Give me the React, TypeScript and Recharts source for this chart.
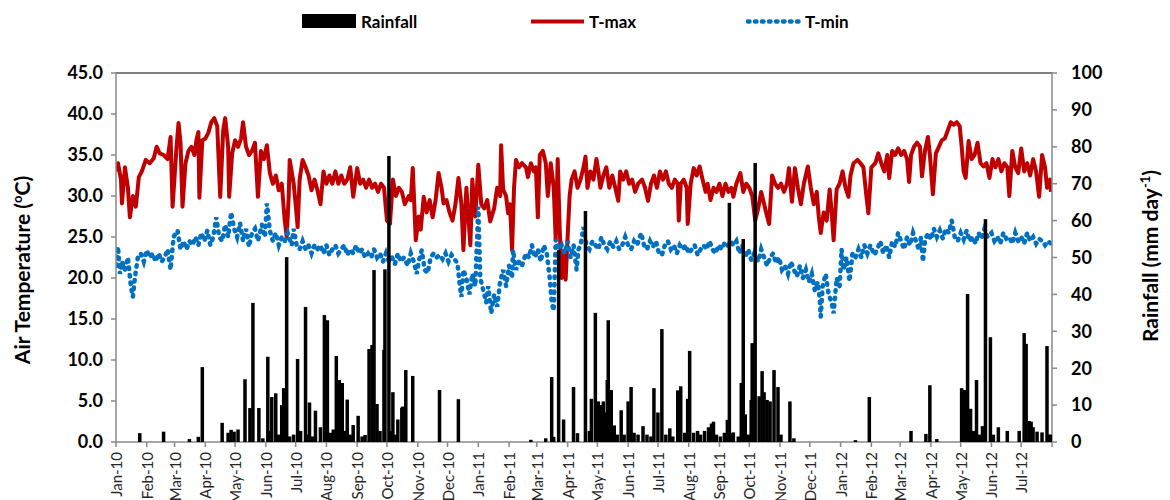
import React from 'react';
import { ComposedChart, Line, Bar, XAxis, YAxis, ReferenceLine } from 'recharts';

// Day index 0 = 1 Jan 2010; month starts used as x-axis ticks
const monthStarts = [0, 31, 59, 90, 120, 151, 181, 212, 243, 273, 304, 334, 365, 396, 424, 455, 485, 516, 546, 577, 608, 638, 669, 699, 730, 761, 790, 821, 851, 882, 912, 943];
const monthLabels = ['Jan-10', 'Feb-10', 'Mar-10', 'Apr-10', 'May-10', 'Jun-10', 'Jul-10', 'Aug-10', 'Sep-10', 'Oct-10', 'Nov-10', 'Dec-10', 'Jan-11', 'Feb-11', 'Mar-11', 'Apr-11', 'May-11', 'Jun-11', 'Jul-11', 'Aug-11', 'Sep-11', 'Oct-11', 'Nov-11', 'Dec-11', 'Jan-12', 'Feb-12', 'Mar-12', 'Apr-12', 'May-12', 'Jun-12', 'Jul-12', ''];
const tempTicks = [0, 5, 10, 15, 20, 25, 30, 35, 40, 45];
const rainTicks = [0, 10, 20, 30, 40, 50, 60, 70, 80, 90, 100];

// [day, °C]
const tmaxReadings: [number, number][] = [[0,33.0],[2,34.0],[5,32.0],[6,29.1],[9,33.5],[12,31.0],[14,27.4],[17,30.0],[20,28.7],[23,32.3],[26,33.0],[30,34.4],[34,34.0],[38,34.6],[41,36.0],[44,35.2],[48,35.0],[52,34.5],[55,37.2],[57,28.7],[61,36.0],[63,38.9],[65,36.5],[67,28.7],[70,34.0],[73,35.5],[76,36.0],[79,35.0],[81,36.8],[83,37.8],[84,29.8],[87,36.8],[90,37.0],[93,37.7],[96,39.0],[99,39.5],[102,38.5],[105,29.9],[108,38.0],[110,39.5],[113,36.0],[114,29.9],[117,35.2],[120,36.8],[123,36.0],[126,37.0],[128,39.0],[131,36.0],[134,35.0],[137,35.5],[140,36.5],[143,29.9],[146,35.5],[149,34.5],[152,36.2],[155,32.8],[158,31.5],[161,32.5],[164,30.7],[167,31.5],[170,27.0],[172,25.0],[174,30.0],[175,34.4],[179,31.5],[181,29.0],[183,26.2],[185,32.0],[188,34.4],[191,33.5],[194,32.5],[197,30.7],[200,32.0],[203,30.7],[206,29.0],[209,33.0],[212,31.5],[215,32.5],[218,31.5],[221,33.0],[224,31.5],[227,32.5],[230,31.5],[233,32.0],[236,33.5],[239,29.9],[243,33.4],[246,31.5],[249,32.0],[252,31.0],[255,32.0],[258,31.0],[261,31.5],[264,30.5],[267,31.5],[270,31.0],[273,27.0],[276,26.6],[279,32.0],[282,30.0],[285,31.0],[288,30.5],[291,29.0],[295,30.0],[297,29.5],[299,33.4],[302,24.6],[305,27.5],[307,25.9],[310,29.9],[313,28.0],[316,29.5],[319,27.4],[322,29.5],[325,32.8],[328,31.0],[330,29.1],[333,29.5],[336,28.0],[339,27.0],[342,29.0],[345,32.2],[348,29.0],[350,23.4],[353,31.0],[357,24.0],[359,32.0],[362,27.5],[365,33.8],[368,29.0],[371,28.5],[374,29.5],[377,26.9],[381,28.5],[384,31.0],[387,30.0],[388,36.2],[390,30.8],[393,30.0],[395,27.9],[397,29.0],[399,23.4],[401,31.0],[403,34.4],[406,33.5],[409,34.0],[413,33.5],[415,32.3],[418,34.0],[421,33.0],[423,33.5],[425,27.4],[427,35.0],[430,35.5],[433,34.0],[435,30.0],[438,34.0],[441,31.0],[443,24.6],[445,34.5],[447,26.0],[449,20.0],[451,23.0],[453,19.8],[455,25.0],[457,30.0],[459,32.0],[462,33.0],[465,31.0],[468,32.0],[471,33.5],[473,34.8],[475,31.0],[478,33.0],[481,32.0],[484,34.5],[486,33.0],[488,31.0],[491,32.5],[494,33.5],[497,31.0],[500,32.5],[503,31.0],[506,29.4],[508,33.0],[511,32.0],[514,33.0],[517,31.5],[520,32.0],[523,30.5],[526,31.5],[530,32.0],[533,31.0],[536,29.4],[539,31.5],[542,32.5],[545,31.0],[548,33.0],[551,32.0],[554,33.0],[557,31.5],[560,31.0],[563,32.0],[566,31.5],[567,27.0],[569,31.5],[572,32.0],[575,31.0],[576,26.6],[579,31.5],[582,33.4],[585,32.5],[588,33.6],[591,32.0],[594,30.5],[596,31.5],[599,29.5],[602,31.0],[605,30.5],[608,31.5],[611,30.0],[614,31.5],[617,30.5],[620,31.0],[622,29.9],[625,31.5],[629,32.8],[632,30.5],[635,31.5],[638,31.0],[641,30.0],[644,27.0],[647,28.5],[650,30.5],[653,29.0],[656,27.5],[658,26.6],[661,32.5],[664,31.5],[667,31.0],[670,31.5],[673,30.5],[676,31.5],[678,33.4],[681,29.3],[684,33.4],[687,31.0],[690,29.0],[693,31.5],[697,33.6],[700,31.0],[703,29.0],[706,30.5],[708,27.5],[710,25.5],[713,28.0],[716,27.0],[719,30.8],[721,28.0],[723,24.6],[726,30.8],[729,31.5],[732,33.0],[735,31.0],[738,29.9],[740,32.5],[743,34.0],[747,34.4],[750,34.0],[753,33.5],[756,30.0],[758,27.9],[761,33.5],[765,34.0],[768,35.2],[771,34.0],[774,33.0],[777,35.0],[779,32.2],[782,35.5],[785,35.0],[788,35.8],[791,35.0],[794,35.5],[797,34.5],[799,31.7],[801,35.0],[804,36.0],[807,36.5],[810,36.0],[812,32.4],[815,35.5],[818,37.2],[820,35.0],[823,30.2],[826,35.2],[829,36.0],[832,36.8],[835,37.0],[838,38.0],[841,39.0],[844,38.7],[847,39.0],[850,38.5],[852,36.0],[854,33.0],[856,32.2],[859,36.7],[862,34.5],[865,35.0],[868,36.5],[871,34.0],[874,33.6],[877,34.0],[880,32.2],[883,34.5],[886,33.5],[889,34.5],[892,33.0],[895,34.0],[898,33.5],[900,30.0],[903,35.5],[906,33.5],[909,32.8],[912,35.8],[915,33.0],[918,34.0],[921,32.5],[924,34.5],[927,33.0],[930,29.9],[933,35.0],[936,33.5],[938,31.0],[941,32.0],[942,30.5]];

// [day, °C]
const tminReadings: [number, number][] = [[0,21.5],[2,23.8],[4,20.5],[6,22.0],[9,21.0],[12,22.5],[15,19.0],[17,17.7],[19,20.0],[22,22.5],[25,23.0],[28,22.0],[31,23.4],[34,22.5],[37,23.0],[40,22.0],[43,23.0],[46,22.0],[49,22.5],[52,23.5],[55,21.0],[58,25.0],[62,25.8],[65,23.5],[68,24.5],[71,23.5],[74,24.5],[77,24.0],[80,25.0],[83,24.0],[86,25.5],[89,24.5],[92,25.8],[95,24.0],[98,25.0],[101,27.4],[104,25.0],[107,24.5],[110,26.5],[113,25.0],[116,28.0],[119,26.0],[122,25.0],[125,26.7],[128,24.5],[131,26.0],[134,23.8],[137,25.5],[140,26.0],[143,24.5],[147,26.5],[150,25.0],[152,29.1],[155,25.8],[158,24.5],[161,25.5],[164,24.0],[167,25.0],[170,24.5],[173,25.5],[177,24.0],[179,26.0],[182,24.0],[185,23.5],[188,24.5],[191,23.5],[194,24.0],[197,23.0],[200,24.0],[203,23.5],[206,24.0],[209,23.0],[212,24.0],[215,22.8],[218,23.5],[221,24.0],[224,23.0],[227,23.5],[230,24.0],[233,22.8],[236,23.5],[239,23.0],[242,24.0],[245,23.0],[248,23.5],[251,22.5],[254,23.0],[257,22.5],[260,23.5],[263,22.5],[266,23.0],[269,22.0],[272,23.0],[275,22.0],[278,22.5],[281,21.7],[284,23.0],[287,22.0],[290,22.5],[294,21.5],[297,23.0],[300,22.0],[303,20.5],[305,22.0],[308,23.4],[311,21.0],[314,20.6],[317,22.5],[320,23.0],[323,22.5],[326,22.8],[329,22.3],[332,23.0],[335,22.0],[338,22.8],[341,22.3],[344,21.8],[346,19.5],[348,17.7],[350,21.0],[353,20.0],[356,18.0],[359,20.5],[362,19.0],[365,28.7],[367,20.0],[370,18.5],[373,17.0],[375,19.0],[378,15.7],[381,18.0],[384,16.5],[387,19.5],[390,21.0],[393,19.0],[396,21.5],[399,20.0],[400,23.4],[403,21.0],[406,22.0],[409,21.5],[413,23.0],[416,22.5],[419,24.0],[422,22.5],[425,23.5],[428,22.0],[431,24.0],[434,23.0],[437,20.0],[439,17.0],[441,16.0],[443,24.7],[446,23.5],[449,24.0],[452,23.0],[455,24.5],[458,22.5],[461,24.0],[464,21.0],[466,23.5],[468,24.0],[471,26.2],[474,24.0],[477,23.5],[480,24.5],[483,24.0],[486,23.5],[489,25.0],[492,24.0],[495,23.5],[498,24.5],[501,23.8],[504,24.5],[507,23.5],[510,24.0],[513,25.0],[516,24.0],[519,23.5],[522,24.5],[525,24.0],[529,25.5],[532,24.0],[535,23.5],[538,24.5],[541,23.8],[544,24.5],[547,23.0],[550,22.8],[553,24.0],[556,24.5],[559,23.5],[562,24.0],[565,23.0],[568,24.0],[571,23.5],[574,24.0],[577,23.0],[580,23.5],[583,24.0],[586,22.8],[589,23.5],[592,24.0],[595,23.5],[598,24.5],[601,23.5],[604,23.0],[607,24.0],[610,23.5],[613,24.2],[616,23.8],[619,24.5],[622,24.0],[625,24.5],[628,23.0],[631,24.0],[634,22.5],[637,23.5],[640,22.2],[643,23.0],[647,22.0],[650,23.5],[653,22.5],[656,21.5],[659,22.5],[662,23.0],[665,21.8],[668,22.5],[671,21.0],[674,21.5],[677,20.5],[680,22.0],[683,21.0],[686,20.2],[689,21.5],[692,20.0],[695,21.0],[698,19.5],[701,20.5],[704,18.5],[707,19.5],[709,17.5],[710,15.3],[712,19.0],[715,20.5],[718,18.0],[721,17.0],[723,15.7],[726,20.0],[729,19.0],[731,23.5],[733,21.0],[736,22.5],[739,19.6],[742,23.0],[745,22.5],[748,23.5],[751,22.5],[754,24.0],[757,23.0],[760,24.0],[764,22.8],[767,23.5],[770,24.5],[773,23.0],[776,24.0],[779,22.5],[782,24.5],[785,23.8],[788,25.5],[791,24.5],[794,23.5],[797,25.0],[800,24.0],[803,25.5],[806,24.5],[809,23.4],[811,25.0],[813,22.0],[815,24.5],[818,25.5],[821,24.7],[824,26.0],[827,25.0],[830,25.8],[833,24.8],[836,26.0],[839,25.5],[842,27.0],[845,25.0],[848,24.5],[851,25.5],[854,24.7],[857,25.8],[860,24.5],[863,25.0],[866,24.2],[869,25.5],[872,24.8],[875,26.0],[878,25.0],[882,25.5],[885,24.5],[888,25.0],[891,24.2],[894,25.5],[897,24.8],[900,25.0],[903,24.2],[906,25.5],[909,24.5],[912,25.0],[915,24.2],[918,25.5],[921,24.5],[924,25.0],[927,24.2],[930,24.8],[933,24.5],[936,24.0],[939,24.5],[942,24.2]];

// [day, mm]
const rainReadings: [number, number][] = [[24,2.4],[48,2.8],[74,0.8],[83,1.4],[87,20.3],[107,5.2],[113,2.5],[116,3.3],[119,2.8],[123,3.4],[130,17.0],[135,9.2],[138,37.7],[144,9.2],[148,1.0],[153,23.1],[155,3.0],[157,12.2],[161,13.2],[164,2.0],[167,10.0],[169,14.6],[172,50.1],[175,1.5],[179,2.0],[183,22.5],[186,3.0],[191,36.6],[193,2.0],[195,10.7],[198,1.5],[201,8.5],[206,4.0],[210,34.4],[213,33.0],[216,2.5],[219,3.4],[222,23.3],[225,16.8],[228,16.0],[230,3.0],[233,11.5],[236,2.0],[239,4.6],[244,7.1],[248,1.5],[251,1.9],[255,25.2],[258,26.3],[260,46.6],[263,10.3],[266,3.0],[270,25.0],[271,46.8],[275,77.5],[277,3.0],[279,13.5],[282,2.0],[284,6.1],[288,9.3],[289,9.6],[292,19.5],[299,17.9],[326,14.1],[345,11.6],[418,0.6],[433,1.0],[439,17.6],[441,1.4],[446,52.0],[451,6.1],[461,14.9],[465,2.4],[473,62.6],[477,3.0],[479,11.7],[483,35.0],[486,11.0],[489,10.0],[491,11.0],[493,8.0],[495,16.8],[496,33.0],[499,14.1],[502,4.5],[505,2.0],[509,8.6],[512,2.0],[516,11.0],[519,14.9],[522,2.5],[526,2.0],[531,4.3],[535,2.0],[539,1.5],[542,14.6],[546,8.0],[550,30.6],[554,2.0],[558,3.7],[561,1.5],[566,14.0],[569,15.1],[573,2.5],[576,11.7],[578,24.7],[582,2.5],[586,3.0],[589,2.0],[593,3.0],[597,4.0],[600,5.0],[602,5.5],[605,2.0],[609,1.5],[613,2.5],[616,6.0],[618,64.8],[620,2.4],[622,2.6],[627,1.5],[630,16.0],[632,55.0],[634,7.5],[637,2.0],[640,11.4],[641,26.8],[644,75.6],[648,12.4],[651,19.2],[653,13.5],[656,11.4],[659,11.0],[663,19.5],[667,14.9],[670,2.0],[679,11.0],[683,1.0],[745,0.5],[759,12.2],[801,3.0],[816,2.2],[820,15.4],[827,0.8],[852,14.6],[855,14.1],[858,40.1],[861,9.0],[864,3.0],[867,16.8],[870,2.0],[873,4.3],[876,60.4],[881,28.4],[884,2.0],[889,4.0],[898,3.0],[910,3.0],[915,29.5],[917,26.6],[920,5.7],[922,5.5],[924,4.0],[928,2.8],[933,2.6],[938,26.0],[940,2.0],[942,2.0]];

type Row = { day: number; tmax?: number; tmin?: number; rain?: number };
const rowMap = new Map<number, Row>();
const put = (list: [number, number][], key: 'tmax' | 'tmin' | 'rain') => {
  list.forEach(([d, v]) => {
    const r = rowMap.get(d) ?? { day: d };
    r[key] = v;
    rowMap.set(d, r);
  });
};
put(tmaxReadings, 'tmax');
put(tminReadings, 'tmin');
put(rainReadings, 'rain');
const rows: Row[] = Array.from(rowMap.values()).sort((a, b) => a.day - b.day);

const FONT = 'Lato, "Liberation Sans", Arial, sans-serif';
const AXIS_GRAY = '#898989';

const MonthTick = (props: any) => {
  const { x, y, payload } = props;
  const idx = monthStarts.indexOf(payload.value);
  const label = idx >= 0 ? monthLabels[idx] : '';
  return (
    <text
      x={x}
      y={y}
      transform={`rotate(-90 ${x} ${y})`}
      textAnchor="end"
      dominantBaseline="central"
      fontFamily={FONT}
      fontSize={15}
      fill="#262626"
    >
      {label}
    </text>
  );
};

// Bar shape: keep library-computed position/height, widen to a visible column
const RainBar = (props: any) => {
  const { x, y, width, height } = props;
  if (!height || height <= 0 || x == null) return null;
  const cx = x + (width || 0) / 2;
  return <rect x={cx - 1.75} y={y} width={3.5} height={height} fill="#000" />;
};

export default function App() {
  return (
    <div style={{ position: 'absolute', left: 0, top: 0, width: 1170, height: 500, background: '#fff' }}>
      <ComposedChart
        width={1170}
        height={500}
        data={rows}
        margin={{ top: 73, right: 58, bottom: 0, left: 56 }}
      >
        <XAxis
          dataKey="day"
          type="number"
          domain={[0, 943]}
          ticks={monthStarts}
          interval={0}
          allowDataOverflow
          height={58}
          tick={<MonthTick />}
          tickSize={5}
          tickMargin={5}
          axisLine={{ stroke: AXIS_GRAY, strokeWidth: 1.5 }}
          tickLine={{ stroke: AXIS_GRAY, strokeWidth: 1.5 }}
        />
        <YAxis
          yAxisId="t"
          orientation="left"
          domain={[0, 45]}
          ticks={tempTicks}
          interval={0}
          width={60}
          tickSize={5}
          tickMargin={8}
          tickFormatter={(v: number) => v.toFixed(1)}
          tick={{ fontFamily: FONT, fontSize: 18, fontWeight: 700, fill: '#000' }}
          axisLine={{ stroke: AXIS_GRAY, strokeWidth: 1.5 }}
          tickLine={{ stroke: AXIS_GRAY, strokeWidth: 1.5 }}
        />
        <YAxis
          yAxisId="r"
          orientation="right"
          domain={[0, 100]}
          ticks={rainTicks}
          interval={0}
          width={60}
          tickSize={5}
          tickMargin={14}
          tick={{ fontFamily: FONT, fontSize: 18, fontWeight: 700, fill: '#000' }}
          axisLine={{ stroke: AXIS_GRAY, strokeWidth: 1.5 }}
          tickLine={{ stroke: AXIS_GRAY, strokeWidth: 1.5 }}
        />
        <ReferenceLine yAxisId="t" y={45} stroke="#000" strokeWidth={1} />
        <Line
          yAxisId="t"
          type="linear"
          dataKey="tmax"
          stroke="#C00000"
          strokeWidth={4}
          strokeLinejoin="round"
          dot={false}
          activeDot={false}
          connectNulls
          isAnimationActive={false}
        />
        <Line
          yAxisId="t"
          type="linear"
          dataKey="tmin"
          stroke="#0070C0"
          strokeWidth={4.5}
          strokeDasharray="1.5 6"
          strokeLinecap="round"
          dot={false}
          activeDot={false}
          connectNulls
          isAnimationActive={false}
        />
        <Bar
          yAxisId="r"
          dataKey="rain"
          fill="#000"
          barSize={3}
          shape={<RainBar />}
          zIndex={500}
          isAnimationActive={false}
        />
      </ComposedChart>

      <svg
        width={1170}
        height={500}
        style={{ position: 'absolute', left: 0, top: 0, pointerEvents: 'none' }}
      >
        {/* legend */}
        <rect x={302} y={14} width={54} height={14} fill="#000" />
        <text x={361} y={28} fontFamily={FONT} fontSize={17} fontWeight={700} fill="#000">Rainfall</text>
        <line x1={531} y1={21.5} x2={584} y2={21.5} stroke="#C00000" strokeWidth={4} />
        <text x={589} y={28} fontFamily={FONT} fontSize={17} fontWeight={700} fill="#000">T-max</text>
        <line x1={748} y1={21.5} x2={799} y2={21.5} stroke="#0070C0" strokeWidth={4.5} strokeDasharray="1.5 5.5" strokeLinecap="round" />
        <text x={805} y={28} fontFamily={FONT} fontSize={17} fontWeight={700} fill="#000">T-min</text>

        {/* axis titles */}
        <text
          x={30}
          y={270}
          transform="rotate(-90 30 270)"
          textAnchor="middle"
          fontFamily={FONT}
          fontSize={21}
          fontWeight={700}
          fill="#000"
        >
          Air Temperature (<tspan dy={-8} fontSize={13}>o</tspan><tspan dy={8}>C)</tspan>
        </text>
        <text
          x={1158}
          y={256}
          transform="rotate(-90 1158 256)"
          textAnchor="middle"
          fontFamily={FONT}
          fontSize={21}
          fontWeight={700}
          fill="#000"
        >
          Rainfall (mm day<tspan dy={-8} fontSize={13}>-1</tspan><tspan dy={8}>)</tspan>
        </text>
      </svg>
    </div>
  );
}
